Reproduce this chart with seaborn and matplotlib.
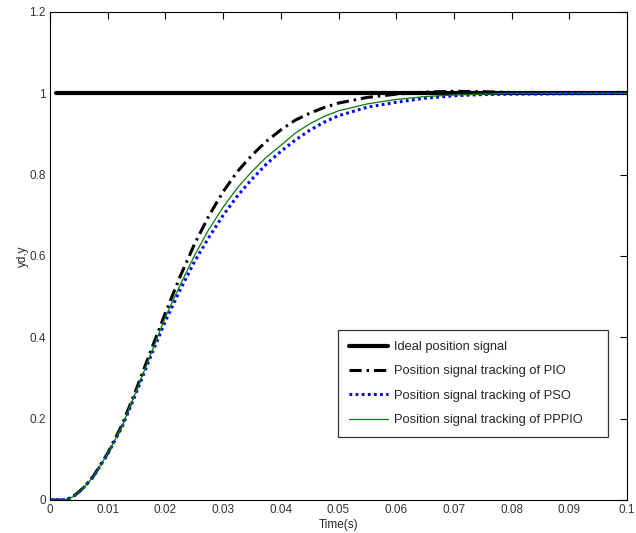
import matplotlib
matplotlib.use("Agg")
import matplotlib.pyplot as plt
import seaborn as sns
import numpy as np
import pandas as pd

# time (s) and tracked position
ideal_t = [0.001, 0.1]
ideal_y = [1.0, 1.0]

pio_t = [0, 0.002, 0.003, 0.004, 0.005, 0.006, 0.0075, 0.01, 0.0125, 0.015, 0.0175,
         0.02, 0.0225, 0.025, 0.0275, 0.03, 0.0325, 0.035, 0.0375, 0.04, 0.0425,
         0.045, 0.0475, 0.05, 0.055, 0.06, 0.065, 0.07, 0.075, 0.08, 0.09, 0.1]
pio_y = [0, 0, 0.002, 0.008, 0.02, 0.033, 0.058, 0.115, 0.185, 0.274, 0.368,
         0.46, 0.548, 0.628, 0.698, 0.758, 0.808, 0.848, 0.882, 0.91, 0.934,
         0.951, 0.965, 0.976, 0.99, 0.998, 1.003, 1.005, 1.004, 1.002, 1.0, 1.0]

pso_t = [0, 0.002, 0.003, 0.004, 0.005, 0.006, 0.0075, 0.01, 0.0125, 0.015, 0.0175,
         0.02, 0.0225, 0.025, 0.0275, 0.03, 0.0325, 0.035, 0.0375, 0.04, 0.0425,
         0.045, 0.0475, 0.05, 0.055, 0.06, 0.065, 0.07, 0.075, 0.08, 0.09, 0.1]
pso_y = [0, 0, 0.002, 0.008, 0.02, 0.033, 0.057, 0.113, 0.18, 0.266, 0.355,
         0.44, 0.515, 0.585, 0.645, 0.70, 0.748, 0.789, 0.826, 0.857, 0.885,
         0.909, 0.929, 0.945, 0.966, 0.978, 0.988, 0.994, 0.997, 0.998, 0.999, 1.0]

pppio_t = [0, 0.002, 0.003, 0.004, 0.005, 0.006, 0.0075, 0.01, 0.0125, 0.015, 0.0175,
           0.02, 0.0225, 0.025, 0.0275, 0.03, 0.0325, 0.035, 0.0375, 0.04, 0.0425,
           0.045, 0.0475, 0.05, 0.055, 0.06, 0.065, 0.07, 0.075, 0.08, 0.09, 0.1]
pppio_y = [0, 0, 0.002, 0.008, 0.02, 0.033, 0.057, 0.114, 0.182, 0.27, 0.36,
           0.45, 0.527, 0.6, 0.665, 0.72, 0.768, 0.808, 0.843, 0.872, 0.902,
           0.925, 0.943, 0.957, 0.974, 0.985, 0.992, 0.996, 0.998, 1.0, 1.0, 1.0]

labels = ["Ideal position signal",
          "Position signal tracking of PIO",
          "Position signal tracking of PSO",
          "Position signal tracking of PPPIO"]

sns.set_style("white")
plt.rcParams["font.family"] = ["Liberation Sans", "DejaVu Sans"]

fig = plt.figure(figsize=(6.36, 5.33), dpi=100)
ax = fig.add_axes([50 / 636, 1 - 500 / 533, 577 / 636, 488 / 533])

series = [
    (ideal_t, ideal_y, labels[0], dict(color="black", lw=3.0, linestyle="-")),
    (pio_t, pio_y, labels[1], dict(color="black", lw=2.2, dashes=(4.0, 1.6, 0.8, 1.6))),
    (pso_t, pso_y, labels[2], dict(color="#0000ff", lw=2.2, dashes=(0.9, 1.1))),
    (pppio_t, pppio_y, labels[3], dict(color="#008000", lw=0.9, linestyle="-")),
]
for t, y, lab, kw in series:
    df = pd.DataFrame({"Time": t, "y": y})
    sns.lineplot(data=df, x="Time", y="y", ax=ax, label=lab, **kw)

ax.set_xlim(0, 0.1)
ax.set_ylim(0, 1.2)
ax.set_xticks(np.arange(0, 0.1001, 0.01))
ax.set_xticklabels(["0", "0.01", "0.02", "0.03", "0.04", "0.05", "0.06",
                    "0.07", "0.08", "0.09", "0.1"])
ax.set_yticks(np.arange(0, 1.2001, 0.2))
ax.set_yticklabels(["0", "0.2", "0.4", "0.6", "0.8", "1", "1.2"])
ax.tick_params(direction="in", length=5, width=0.8, top=True, right=True,
               labelsize=8.5, colors="black", labelcolor="#333333", pad=3)
ax.set_xlabel("Time(s)", fontsize=8.5, labelpad=2)
ax.set_ylabel("yd,y", fontsize=8.5, labelpad=0)
for s in ax.spines.values():
    s.set_color("black")
    s.set_linewidth(0.8)

leg = ax.legend(loc="lower left", mode="expand",
                bbox_to_anchor=(288 / 577, 63 / 488, 270 / 577, 115 / 488),
                borderaxespad=0, fontsize=9.3, frameon=True, fancybox=False,
                edgecolor="black", handlelength=3.0, labelspacing=0.95,
                borderpad=0.85, handletextpad=0.45)
leg.get_frame().set_linewidth(0.9)

plt.savefig("out.png", dpi=100)
plt.close()
